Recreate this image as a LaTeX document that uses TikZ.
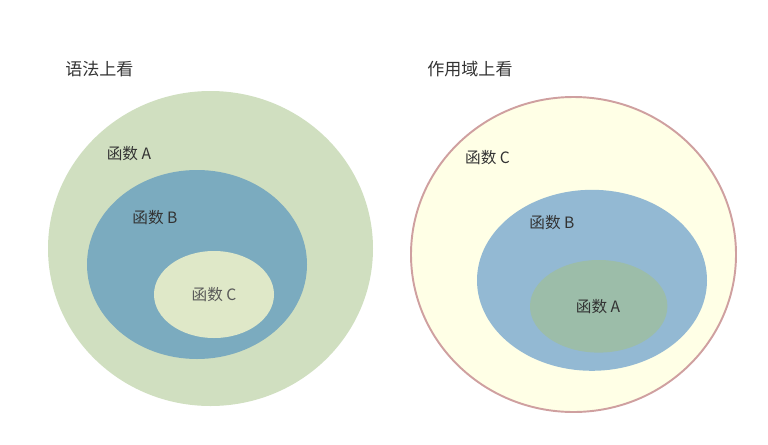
\documentclass[tikz,border=0pt]{standalone}
\usepackage{fontspec}
\setmainfont{Noto Sans CJK SC}
\usetikzlibrary{backgrounds}

\definecolor{outerA}{HTML}{D0DFC0}
\definecolor{midB}{HTML}{7BABBF}
\definecolor{innerC}{HTML}{DFE8C8}
\definecolor{scopeC}{HTML}{FFFFE6}
\definecolor{scopeRim}{HTML}{CFA0A0}
\definecolor{scopeB}{HTML}{93B9D3}
\definecolor{scopeA}{HTML}{9CBDA9}
\definecolor{txt}{HTML}{333333}

\tikzset{
  fnname/.style={text=txt, inner sep=0pt, font=\fontsize{8.9}{10}\selectfont},
  heading/.style={text=txt, inner sep=0pt, anchor=west, font=\fontsize{9.7}{11}\selectfont}
}

\begin{document}
\begin{tikzpicture}[x=0.02cm, y=-0.02cm]
  \useasboundingbox (0,0) rectangle (768,444);

  % syntax view
  \node [heading] (syntax) at (65,69) {语法上看};
  \fill [outerA] (210.5,248.5) ellipse (162.5 and 157.5);
  \fill [midB] (197,264.5) ellipse (110 and 94.5);
  \fill [innerC] (214,294.5) ellipse (60 and 43.5);
  \node [fnname] (sA) at (129,154) {函数 A};
  \node [fnname] (sB) at (155,218) {函数 B};
  \node [fnname, text=black!65] (sC) at (214,295) {函数 C};

  % scope view
  \node [heading] (scope) at (427,69) {作用域上看};
  \filldraw [fill=scopeC, draw=scopeRim, line width=1.1pt] (573.5,254.5) ellipse (162.5 and 157.5);
  \fill [scopeB] (592,280.3) ellipse (115 and 90.5);
  \fill [scopeA] (598.7,306.3) ellipse (68.7 and 46.3);
  \node [fnname] (cC) at (487.5,158) {函数 C};
  \node [fnname] (cB) at (552,223) {函数 B};
  \node [fnname] (cA) at (598,307) {函数 A};
\end{tikzpicture}
\end{document}
